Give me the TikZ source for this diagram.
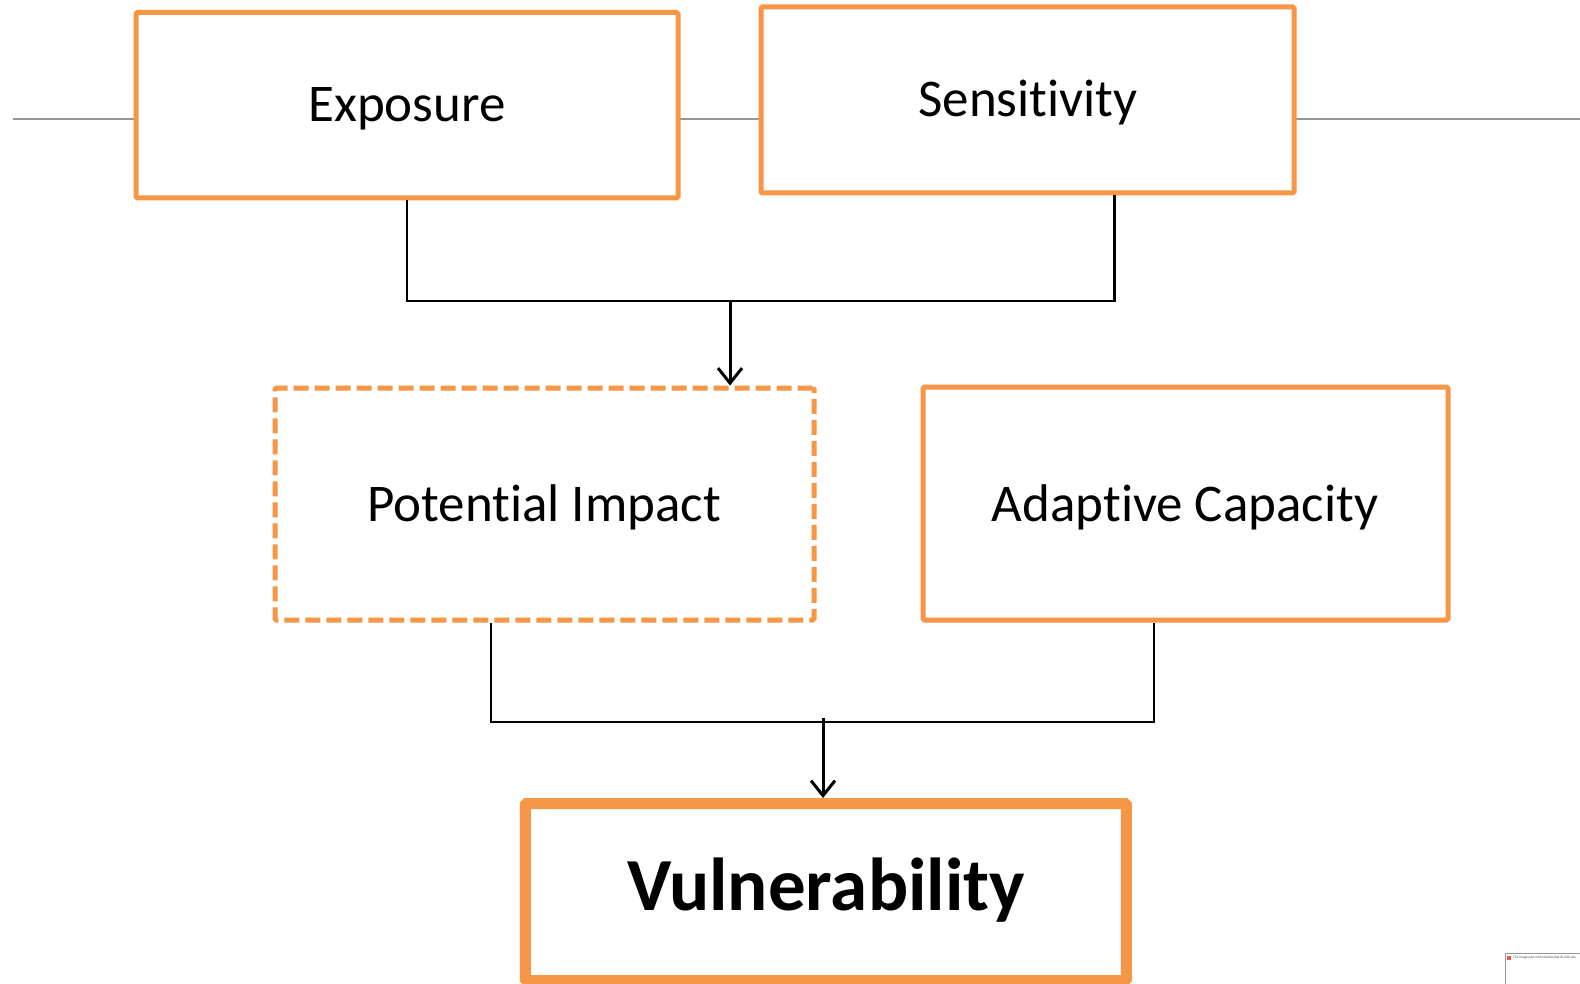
\documentclass[tikz,border=0pt]{standalone}
\usepackage{fontspec}
\setmainfont[Ligatures=NoCommon]{Carlito}
\usetikzlibrary{arrows.meta}
\definecolor{accorange}{RGB}{247,150,70}
\definecolor{sepgray}{RGB}{150,150,150}
\begin{document}
\begin{tikzpicture}[x=1pt,y=-1pt,
  box/.style={draw=accorange,line width=5pt,fill=white,inner sep=0pt,rounded corners=1.5pt},
  dashbox/.style={box,dash pattern=on 15pt off 6pt},
  bigbox/.style={box,line width=11pt},
  lbl/.style={anchor=base,inner sep=0pt,font=\fontsize{53}{58}\selectfont},
  biglbl/.style={anchor=base,inner sep=0pt,font=\fontsize{75}{80}\selectfont\bfseries},
  conn/.style={black,line width=2.6pt},
  arr/.style={black,line width=3pt,-{Straight Barb[length=15pt,width=24pt]}}]
\useasboundingbox (0,0) rectangle (1580,984);
\fill[white] (0,0) rectangle (1580,984);
% separator line
\coordinate (lineL) at (13,119);
\coordinate (lineR) at (1580,119);
\draw[sepgray,line width=1.3pt] (lineL) -- (lineR);
% boxes
\node[box,minimum width=542pt,minimum height=185.5pt] (ex) at (407,105.25) {};
\node[lbl] (extext) at (407,122) {Exposure};
\node[box,minimum width=533pt,minimum height=186pt] (sens) at (1027.5,100) {};
\node[lbl] (senstext) at (1028,117) {Sensitivity};
\node[dashbox,minimum width=539pt,minimum height=232pt] (pi) at (544.5,504) {};
\node[lbl] (pitext) at (544,521) {Potential Impact};
\node[box,minimum width=525pt,minimum height=233pt] (ac) at (1185.5,503.5) {};
\node[lbl] (actext) at (1185,521) {Adaptive Capacity};
\node[bigbox,minimum width=601pt,minimum height=177pt] (vul) at (825.75,892) {};
\node[biglbl] (vultext) at (826,910) {Vulnerability};
% connector points
\coordinate (j1) at (407,301);
\coordinate (j2) at (1114.5,301);
\coordinate (a1) at (730,301);
\coordinate (j3) at (491,722);
\coordinate (j4) at (1154,722);
\coordinate (a2) at (823,718);
\draw[conn] (ex.south) -- (j1) -- (j2) -- (j2 |- sens.south);
\draw[arr] (a1) -- (a1 |- pi.north);
\draw[conn] (j3 |- pi.south) -- (j3) -- (j4) -- (j4 |- ac.south);
\draw[arr] (a2) -- (a2 |- vul.north);
% broken image placeholder
\node[draw=sepgray,line width=1.2pt,fill=white,anchor=north west,minimum width=90pt,minimum height=40pt,inner sep=0pt] (ph) at (1505,953) {};
\node[anchor=north west,inner sep=0pt,font=\fontsize{3.5}{4}\selectfont,text=black!70] (phtext) at (1513,956) {The image part with relationship ID rId2 was};
\fill[red!70] (1507,956) rectangle (1511,960);
\end{tikzpicture}
\end{document}
